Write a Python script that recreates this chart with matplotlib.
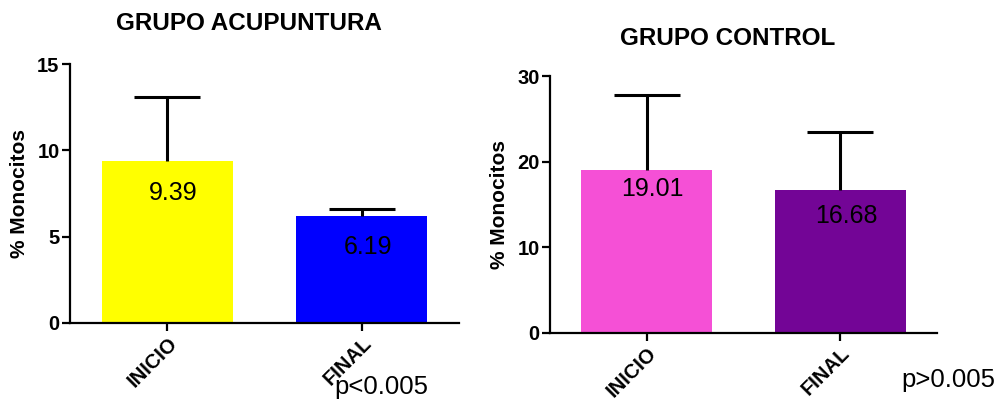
import matplotlib
matplotlib.use('Agg')
import matplotlib.pyplot as plt

plt.rcParams['font.family'] = ['Liberation Sans', 'DejaVu Sans']

# Data
categories = ['INICIO', 'FINAL']
acu_means = [9.39, 6.19]
acu_err = [3.7, 0.4]
ctrl_means = [19.01, 16.68]
ctrl_err = [8.8, 6.8]

acu_colors = ['#FFFF00', '#0000FF']
ctrl_colors = ['#F550D6', '#730596']

panels = [
    ('GRUPO ACUPUNTURA', acu_means, acu_err, acu_colors, [0, 5, 10, 15],
     [0.07, 0.1925, 0.389, 0.6475], [20, 19], 0.985),
    ('GRUPO CONTROL', ctrl_means, ctrl_err, ctrl_colors, [0, 10, 20, 30],
     [0.55, 0.1675, 0.387, 0.6425], [7, 14], 0.95),
]

fig = plt.figure(figsize=(10, 4), dpi=100)

for title, means, errs, colors, yticks, rect, offsets, title_y in panels:
    ax = fig.add_axes(rect)
    x = list(range(len(categories)))
    ax.bar(x, means, width=0.675, color=colors, edgecolor='none', zorder=1)

    # upper error bars only
    tops = [m + e for m, e in zip(means, errs)]
    ax.vlines(x, means, tops, color='black', linewidth=2.2, zorder=2)
    ax.hlines(tops, [i - 0.17 for i in x], [i + 0.17 for i in x],
              color='black', linewidth=2.2, zorder=2)

    # value labels inside bars
    for i, m in enumerate(means):
        ax.annotate(f'{m:.2f}', (i + 0.03, m), xytext=(0, -offsets[i] * 0.72),
                    textcoords='offset points', ha='center', va='top',
                    fontsize=18, color='black', zorder=3)

    ax.set_xlim(-0.5, 1.5)
    ax.set_ylim(0, yticks[-1])
    ax.set_yticks(yticks)
    ax.set_xticks(x)
    ax.set_xticklabels(categories, rotation=45, ha='right', va='top',
                       rotation_mode='anchor', fontweight='bold', fontsize=14.5)
    for lab in ax.get_yticklabels():
        lab.set_fontweight('bold')
        lab.set_fontsize(14.5)
    ax.set_ylabel('% Monocitos', fontweight='bold', fontsize=15, labelpad=6)

    for side in ['top', 'right']:
        ax.spines[side].set_visible(False)
    for side in ['left', 'bottom']:
        ax.spines[side].set_linewidth(1.6)
    ax.tick_params(axis='both', width=1.6, length=5.5, pad=2)

    cx = rect[0] + rect[2] / 2 - 0.016
    fig.text(cx, title_y - 0.045, title, ha='center', va='center',
             fontsize=17.5, fontweight='bold')

fig.text(0.381, 0.032, 'p<0.005', ha='center', va='center', fontsize=18.5)
fig.text(0.948, 0.05, 'p>0.005', ha='center', va='center', fontsize=18.5)

plt.savefig('out.png', dpi=100)
plt.close()
